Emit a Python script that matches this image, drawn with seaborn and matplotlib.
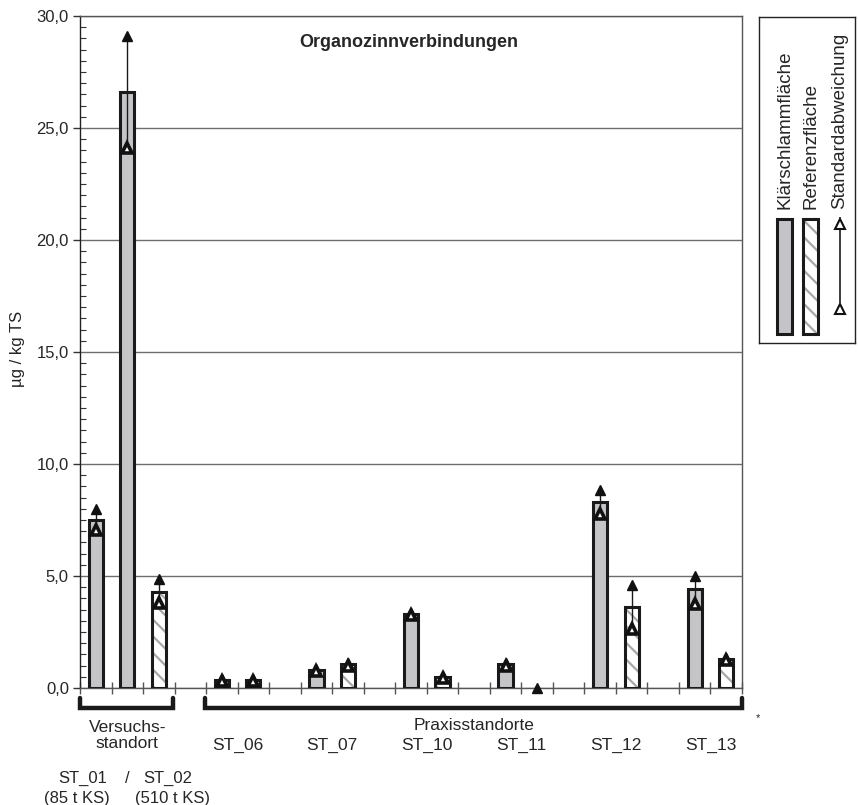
import numpy as np
import pandas as pd
import matplotlib
matplotlib.use("Agg")
import matplotlib.pyplot as plt
from matplotlib.patches import Rectangle
from matplotlib.ticker import MultipleLocator, FuncFormatter
import matplotlib.transforms as mtransforms
import seaborn as sns

# Daten
standorte = ["ST_01", "ST_02", "ST_06", "ST_07", "ST_10", "ST_11", "ST_12", "ST_13"]
klaer_wert = [7.5, 26.6, 0.35, 0.8, 3.3, 1.05, 8.3, 4.4]
klaer_min = [7.05, 24.1, 0.3, 0.75, 3.25, 1.0, 7.75, 3.75]
klaer_max = [8.0, 29.1, 0.4, 0.85, 3.35, 1.1, 8.85, 5.0]
ref_wert = [None, 4.3, 0.35, 1.05, 0.5, 0.0, 3.6, 1.3]
ref_min = [None, 3.8, 0.3, 1.0, 0.45, 0.0, 2.65, 1.25]
ref_max = [None, 4.85, 0.4, 1.1, 0.55, 0.0, 4.6, 1.35]

sns.set_theme(style="white")
plt.rcParams["font.family"] = ["Liberation Sans", "DejaVu Sans"]
plt.rcParams["hatch.linewidth"] = 1.6

# Reihenfolge der Plaetze auf der x-Achse (mit Luecken zwischen den Standorten)
order = ["ST_01 K", "ST_02 K", "ST_02 R", "gap_v"]
for i, s in enumerate(standorte[2:]):
    order += [s + " K", s + " R"]
    if i < len(standorte) - 3:
        order.append("gap_" + s)

rows = []
for i, s in enumerate(standorte):
    rows.append([s + " K", klaer_wert[i], klaer_min[i], klaer_max[i], "Klärschlammfläche"])
    if ref_wert[i] is not None:
        rows.append([s + " R", ref_wert[i], ref_min[i], ref_max[i], "Referenzfläche"])
df = pd.DataFrame(rows, columns=["platz", "wert", "min", "max", "art"])

fig = plt.figure(figsize=(8.58, 8.05), dpi=100)
ax = fig.add_axes([80 / 858, 1 - 688 / 805, 662 / 858, 672 / 805])

sns.barplot(data=df, x="platz", y="wert", hue="art", order=order,
            hue_order=["Klärschlammfläche", "Referenzfläche"],
            palette={"Klärschlammfläche": "#c4c4c8", "Referenzfläche": "white"},
            dodge=False, width=0.45, errorbar=None, legend=False, ax=ax, zorder=3)

grau = "#a8a8a8"
for art, cont in zip(["Klärschlammfläche", "Referenzfläche"], ax.containers):
    for p in cont:
        h = p.get_height()
        if np.isnan(h):
            continue
        if art == "Referenzfläche":
            p.set_hatch("\\\\")
            p.set_edgecolor(grau)
            p.set_linewidth(0)
            if h > 0:
                ax.add_patch(Rectangle((p.get_x(), 0), p.get_width(), h, fill=False,
                                       edgecolor="#1a1a1a", linewidth=2.2, zorder=4))
        else:
            p.set_edgecolor("#1a1a1a")
            p.set_linewidth(2.2 if h > 0 else 0)

# Standardabweichung
pos = {t.get_text(): i for i, t in enumerate(ax.get_xticklabels())}
for _, r in df.iterrows():
    x = pos[r["platz"]]
    ax.vlines(x, r["min"], r["max"], color="#1a1a1a", linewidth=1, zorder=5)
    ax.plot(x, r["max"], marker="^", markersize=7, color="#111111", zorder=6, clip_on=False)
    if r["max"] > r["min"]:
        ax.plot(x, r["min"], marker="^", markersize=7.5, markerfacecolor="white",
                markeredgecolor="#111111", markeredgewidth=2.6, zorder=6)

ax.set_xlim(-0.5, len(order) - 0.5)
ax.set_ylim(0, 30)
ax.set_xticks(np.arange(-0.5, len(order), 1))
ax.set_xticklabels([])
ax.yaxis.set_major_locator(MultipleLocator(5))
ax.yaxis.set_minor_locator(MultipleLocator(0.5))
ax.yaxis.set_major_formatter(FuncFormatter(lambda v, _: f"{v:.1f}".replace(".", ",")))
ax.tick_params(axis="y", which="major", direction="out", length=5, width=1, color="#333333",
               labelsize=12, left=True, pad=3)
ax.tick_params(axis="y", which="minor", direction="in", length=4, width=0.8, color="#333333", left=True)
ax.tick_params(axis="x", which="major", direction="inout", length=9, width=1, color="#555555", bottom=True)
ax.set_xlabel("")
ax.set_ylabel("µg / kg TS", fontsize=12)
ax.yaxis.set_label_coords(-55 / 662, 0.505)
ax.yaxis.grid(True, color="#6e6e6e", linewidth=1)
ax.set_axisbelow(True)
for sp in ax.spines.values():
    sp.set_color("#555555")
    sp.set_linewidth(1)
ax.spines["left"].set_color("#222222")

ax.text(0.497, 0.961, "Organozinnverbindungen", transform=ax.transAxes, ha="center", va="center",
        fontsize=13, fontweight="bold")

# Klammern und Beschriftungen unter der Achse
tr = mtransforms.blended_transform_factory(ax.transData, ax.transAxes)
yb, yt = -0.030, -0.015
for x0, x1 in [(-0.5, 2.45), (3.45, len(order) - 0.5)]:
    ax.plot([x0, x0, x1, x1], [yt, yb, yb, yt], color="#1a1a1a", linewidth=3.2,
            transform=tr, clip_on=False, solid_joinstyle="miter")

fs = 12.5
ax.text(1, -0.071, "Versuchs-\nstandort", transform=tr, ha="center", va="center",
        fontsize=fs, linespacing=1.05)
ax.text(12, -0.056, "Praxisstandorte", transform=tr, ha="center", va="center", fontsize=fs)
for i, s in enumerate(standorte[2:]):
    ax.text(4.5 + 3 * i, -0.085, s, transform=tr, ha="center", va="center", fontsize=fs)
fs2 = 12
ax.text(-0.4, -0.134, "ST_01", transform=tr, ha="center", va="center", fontsize=fs2)
ax.text(1.0, -0.134, "/", transform=tr, ha="center", va="center", fontsize=fs2)
ax.text(2.3, -0.134, "ST_02", transform=tr, ha="center", va="center", fontsize=fs2)
ax.text(-0.6, -0.165, "(85 t KS)", transform=tr, ha="center", va="center", fontsize=fs2)
ax.text(2.45, -0.165, "(510 t KS)", transform=tr, ha="center", va="center", fontsize=fs2)
fig.text(758 / 858, 1 - 718 / 805, "*", ha="center", va="center", fontsize=8)

# Legende
lax = fig.add_axes([759 / 858, 1 - 343 / 805, 96 / 858, 326 / 805])
lax.set_xlim(0, 96)
lax.set_ylim(326, 0)
lax.set_xticks([])
lax.set_yticks([])
lax.set_facecolor("white")
for sp in lax.spines.values():
    sp.set_visible(True)
    sp.set_color("#222222")
    sp.set_linewidth(1)
lax.add_patch(Rectangle((18, 202), 15, 115, facecolor="#c4c4c8", edgecolor="#1a1a1a", linewidth=2.2))
lax.add_patch(Rectangle((44, 202), 15, 115, facecolor="white", hatch="\\\\", edgecolor=grau, linewidth=0))
lax.add_patch(Rectangle((44, 202), 15, 115, fill=False, edgecolor="#1a1a1a", linewidth=2.2))
lax.vlines(81, 200, 298, color="#1a1a1a", linewidth=1.2)
for yy in (207, 292):
    lax.plot(81, yy, marker="^", markersize=7, markerfacecolor="white",
             markeredgecolor="#111111", markeredgewidth=1.5)
for xx, txt in [(26, "Klärschlammfläche"), (52, "Referenzfläche"), (81, "Standardabweichung")]:
    lax.text(xx, 192, txt, rotation=90, ha="center", va="bottom", fontsize=13.5)

fig.savefig("out.png", dpi=100, facecolor="white")
